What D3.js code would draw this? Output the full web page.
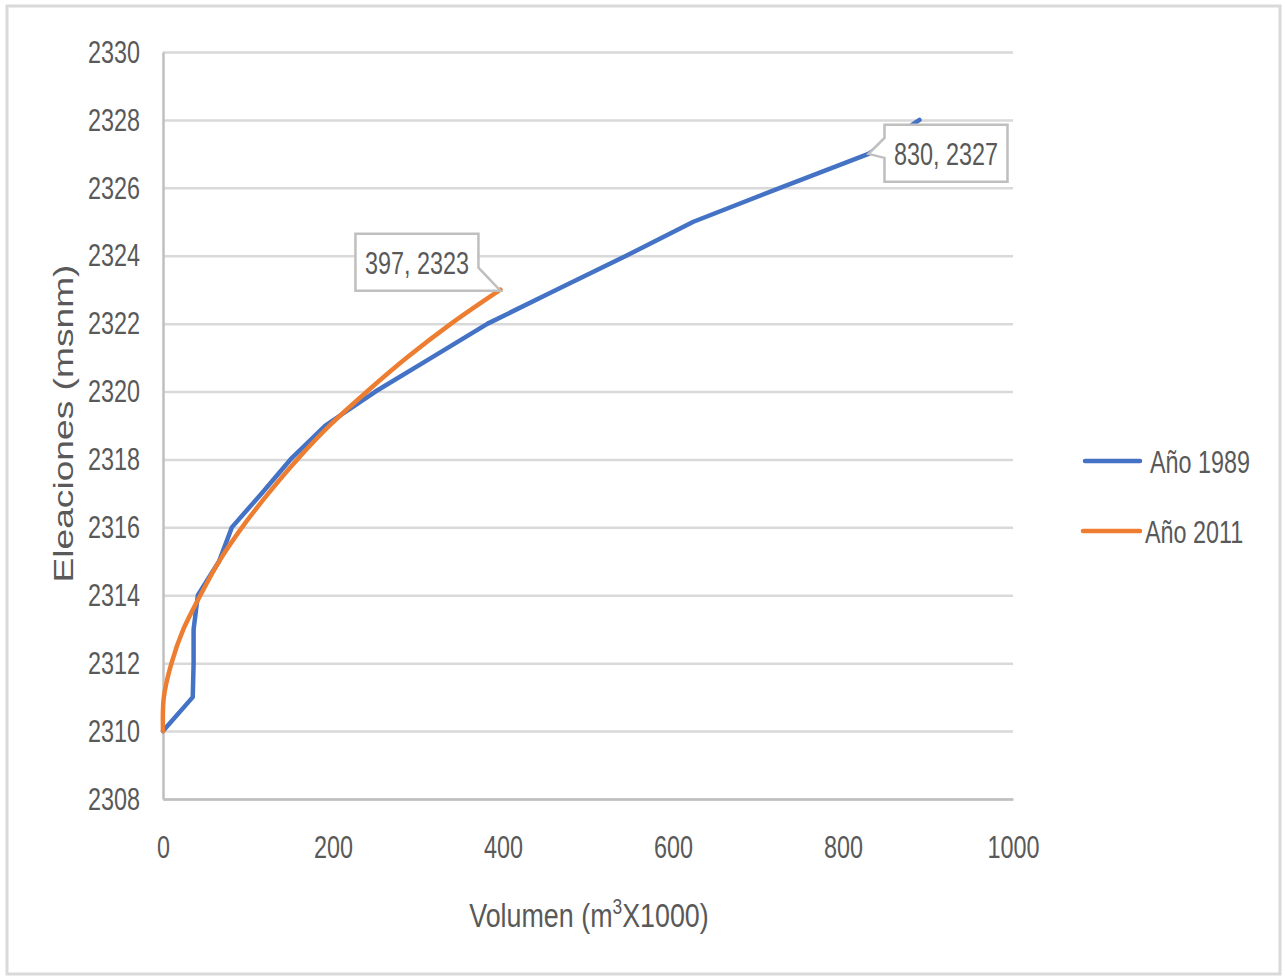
<!DOCTYPE html>
<html>
<head>
<meta charset="utf-8">
<script src="https://cdnjs.cloudflare.com/ajax/libs/d3/7.8.5/d3.min.js"></script>
<style>
  body { margin: 0; background: #fff; }
  text { font-family: "Liberation Sans", sans-serif; fill: #595959; }
</style>
</head>
<body>
<div id="chart-area"></div>
<script>
// elevations (msnm) and volumes (m3 x 1000)
var elev1989 = [2310, 2311, 2312, 2313, 2314, 2315, 2316, 2317, 2318, 2319, 2320, 2321, 2322, 2323, 2324, 2325, 2326, 2327, 2328];
var vol1989  = [0, 35, 36, 36, 41, 66, 81, 116, 150, 191, 250, 316, 382, 463, 545, 624, 726, 830, 890];

var elev2011 = [2310, 2311, 2312, 2313, 2314, 2315, 2316, 2317, 2318, 2319, 2320, 2321, 2322, 2323];
var vol2011  = [0, 1, 10, 24, 44, 66, 93, 124, 158, 196, 240, 287, 339, 397];

var seriesNames = ["Año 1989", "Año 2011"];
var xTicks = [0, 200, 400, 600, 800, 1000];
var yTicks = [2308, 2310, 2312, 2314, 2316, 2318, 2320, 2322, 2324, 2326, 2328, 2330];

// labelled points [series index, point index]
var callouts = [[1, 13], [0, 17]];

var margin = { left: 163, right: 272, top: 52, bottom: 180 };
var W = 1285, H = 979;
var width = W - margin.left - margin.right;
var height = H - margin.top - margin.bottom;
var SQ = 0.73; // the original text is narrow, squeeze glyphs horizontally

function squeeze(sel) {
    sel.each(function(){
        var len = this.getComputedTextLength();
        d3.select(this)
            .attr("textLength", len * SQ)
            .attr("lengthAdjust", "spacingAndGlyphs");
    });
}

var svg = d3.select("#chart-area")
    .append("svg")
        .attr("width", W)
        .attr("height", H);

// outer chart border
svg.append("rect")
    .attr("x", 7).attr("y", 6)
    .attr("width", 1273).attr("height", 968)
    .attr("fill", "#fff")
    .attr("stroke", "#d9d9d9")
    .attr("stroke-width", 3);

var g = svg.append("g")
    .attr("transform", "translate(" + margin.left + "," + margin.top + ")");

var x = d3.scaleLinear().domain([0, 1000]).range([0, width]);
var y = d3.scaleLinear().domain([2308, 2330]).range([height, 0]);

// grid
g.append("g")
    .attr("class", "grid")
    .call(d3.axisLeft(y).tickValues(yTicks).tickSize(-width).tickFormat(""))
    .call(function(s){
        s.select(".domain").remove();
        s.selectAll("line").attr("stroke", "#d9d9d9").attr("stroke-width", 2.5);
    });

// y axis
g.append("g")
    .attr("class", "y axis")
    .call(d3.axisLeft(y).tickValues(yTicks).tickSize(0).tickPadding(23).tickFormat(d3.format("d")))
    .call(function(s){
        s.select(".domain").attr("stroke", "#bfbfbf").attr("stroke-width", 2.5);
        s.selectAll("text")
            .attr("font-size", "32px")
            .attr("font-family", "Liberation Sans")
            .attr("fill", "#595959")
            .call(squeeze);
    });

// x axis
g.append("g")
    .attr("class", "x axis")
    .attr("transform", "translate(0," + height + ")")
    .call(d3.axisBottom(x).tickValues(xTicks).tickSize(0).tickPadding(36).tickFormat(d3.format("d")))
    .call(function(s){
        s.select(".domain").attr("stroke", "#bfbfbf").attr("stroke-width", 2.5);
        s.selectAll("text")
            .attr("font-size", "32px")
            .attr("font-family", "Liberation Sans")
            .attr("fill", "#595959")
            .call(squeeze);
    });

// axis titles
g.append("text")
    .attr("x", -(height / 2) + 2)
    .attr("y", -90)
    .attr("text-anchor", "middle")
    .attr("transform", "rotate(-90)")
    .attr("font-family", "DejaVu Sans")
    .attr("font-size", "28px")
    .attr("textLength", 318)
    .attr("lengthAdjust", "spacingAndGlyphs")
    .text("Eleaciones (msnm)");

var xt = g.append("g")
    .attr("transform", "translate(426," + (height + 128) + ") scale(0.79,1)")
    .append("text")
    .attr("text-anchor", "middle")
    .attr("font-size", "34px");
xt.append("tspan").text("Volumen (m");
xt.append("tspan").attr("font-size", "22px").attr("dy", -13).text("3");
xt.append("tspan").attr("dy", 13).text("X1000)");

// series
var colors = ["#4472c4", "#ed7d31"];
var series = [
    elev1989.map(function(e, i){ return { v: vol1989[i], e: e }; }),
    elev2011.map(function(e, i){ return { v: vol2011[i], e: e }; })
];

var lineLinear = d3.line()
    .x(function(d){ return x(d.v); })
    .y(function(d){ return y(d.e); });
var lineSmooth = d3.line()
    .x(function(d){ return x(d.v); })
    .y(function(d){ return y(d.e); })
    .curve(d3.curveCatmullRom.alpha(0.5));

g.append("path")
    .datum(series[0])
    .attr("d", lineLinear)
    .attr("fill", "none")
    .attr("stroke", colors[0])
    .attr("stroke-width", 4.5)
    .attr("stroke-linejoin", "round")
    .attr("stroke-linecap", "round");

g.append("path")
    .datum(series[1])
    .attr("d", lineSmooth)
    .attr("fill", "none")
    .attr("stroke", colors[1])
    .attr("stroke-width", 4.5)
    .attr("stroke-linejoin", "round")
    .attr("stroke-linecap", "round");

// callouts
callouts.forEach(function(c){
    var d = series[c[0]][c[1]];
    var px = x(d.v), py = y(d.e);
    var p, bx, by;
    var bw = 123, bh = 57;
    var lbl = d.v + ", " + d.e;
    if (c[0] === 1) {
        // box up-left of point, pointer off the bottom-right corner
        bx = px - 22 - bw; by = py - 56;
        p = "M" + bx + "," + by + "H" + (bx + bw) + "V" + (by + 34) +
            "L" + px + "," + (py + 1) + "L" + (bx + bw - 4) + "," + (by + bh) + "H" + bx + "Z";
    } else {
        // box right of point, pointer off the left edge
        bx = px + 16; by = py - 29;
        p = "M" + bx + "," + by + "H" + (bx + bw) + "V" + (by + bh) + "H" + bx +
            "V" + (by + 33) + "L" + px + "," + py + "L" + bx + "," + (by + 13) + "Z";
    }
    g.append("path")
        .attr("d", p)
        .attr("fill", "#fff")
        .attr("stroke", "#bfbfbf")
        .attr("stroke-width", 2.5);
    g.append("text")
        .attr("x", bx + bw / 2)
        .attr("y", by + bh / 2 + 12)
        .attr("text-anchor", "middle")
        .attr("font-size", "32px")
        .attr("fill", "#404040")
        .text(lbl)
        .call(squeeze);
});

// legend
var legend = svg.append("g");
var legY = [461, 531];
var legX = [[1085, 1150], [1083, 1145]];
seriesNames.forEach(function(name, i){
    legend.append("line")
        .attr("x1", legX[i][0]).attr("x2", 1140)
        .attr("y1", legY[i]).attr("y2", legY[i])
        .attr("stroke", colors[i])
        .attr("stroke-width", 4.5)
        .attr("stroke-linecap", "round");
    legend.append("g")
        .attr("transform", "translate(" + legX[i][1] + "," + (legY[i] + 12) + ") scale(" + SQ + ",1)")
        .append("text")
        .attr("font-size", "32px")
        .text(name);
});
</script>
</body>
</html>
